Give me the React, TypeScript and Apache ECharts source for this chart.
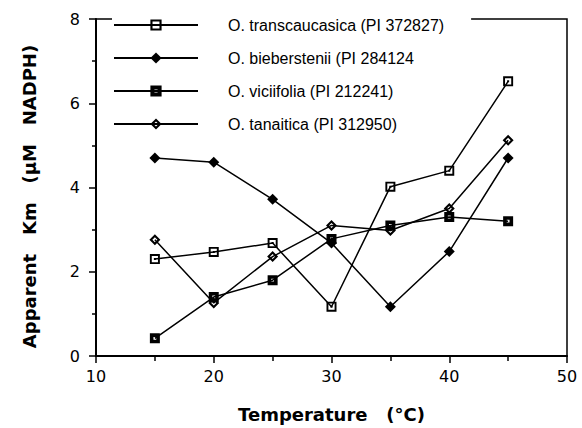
import React, { useEffect, useRef } from "react";
import * as echarts from "echarts";

const temperatures = [15, 20, 25, 30, 35, 40, 45];
const transcaucasica = [2.3, 2.47, 2.68, 1.17, 4.02, 4.4, 6.52];
const bieberstenii = [4.7, 4.6, 3.72, 2.68, 1.17, 2.48, 4.7];
const viciifolia = [0.42, 1.4, 1.8, 2.78, 3.1, 3.3, 3.2];
const tanaitica = [2.76, 1.26, 2.36, 3.1, 2.98, 3.5, 5.12];
const seriesNames = [
  "O. transcaucasica (PI 372827)",
  "O. bieberstenii (PI 284124",
  "O. viciifolia (PI 212241)",
  "O. tanaitica (PI 312950)",
];
const xTicks = [10, 20, 30, 40, 50];
const yTicks = [0, 2, 4, 6, 8];

const openSquare = "path://M0,0 H10 V10 H0 Z M1.9,1.9 V8.1 H8.1 V1.9 Z M4,4 H6 V6 H4 Z";
const filledSquare = "path://M0,0 H10 V10 H0 Z M3.6,3.6 V6.4 H6.4 V3.6 Z";
const filledDiamond = "path://M5,0 L10,5 L5,10 L0,5 Z";
const openDiamond = "path://M5,0 L10,5 L5,10 L0,5 Z M5,2.7 L2.7,5 L5,7.3 L7.3,5 Z";

export default function App() {
  const ref = useRef<HTMLDivElement>(null);
  useEffect(() => {
    if (!ref.current) return;
    const chart = echarts.init(ref.current, null, { renderer: "svg" });
    const mk = (name: string, data: number[], symbol: string, size: number) => ({
      name,
      type: "line",
      z: 3,
      data: temperatures.map((t, i) => [t, data[i]]),
      symbol,
      symbolSize: size,
      lineStyle: { color: "#000", width: 1.5 },
      itemStyle: { color: "#000" },
      emphasis: { disabled: true },
    });
    chart.setOption({
      animation: false,
      backgroundColor: "#fff",
      grid: {
        left: 96,
        right: 15,
        top: 19,
        bottom: 72,
        show: true,
        borderColor: "#000",
        borderWidth: 1.5,
        backgroundColor: "transparent",
      },
      legend: {
        orient: "vertical",
        left: 112,
        top: 14,
        z: 1,
        padding: [2, 27, 2, 1],
        backgroundColor: "#fff",
        itemWidth: 84,
        itemHeight: 14,
        itemGap: 15,
        data: seriesNames,
        textStyle: {
          fontFamily: "'Liberation Sans', Arial, sans-serif",
          fontSize: 16,
          lineHeight: 18,
          color: "#000",
          padding: [0, 0, 0, 25],
        },
      },
      xAxis: {
        type: "value",
        min: xTicks[0],
        max: xTicks[xTicks.length - 1],
        interval: 10,
        name: "Temperature   (°C)",
        nameLocation: "middle",
        nameGap: 49,
        nameTextStyle: { fontFamily: "'DejaVu Sans'", fontWeight: "bold", fontSize: 18, color: "#000" },
        axisLine: { lineStyle: { color: "#000", width: 2 } },
        axisTick: { show: true, inside: false, length: 7, lineStyle: { color: "#000", width: 1.5 } },
        minorTick: { show: true, splitNumber: 2, length: 5, lineStyle: { color: "#000", width: 1.5 } },
        axisLabel: { margin: 12, fontFamily: "'DejaVu Sans'", fontSize: 16, color: "#000" },
        splitLine: { show: false },
      },
      yAxis: {
        type: "value",
        min: yTicks[0],
        max: yTicks[yTicks.length - 1],
        interval: 2,
        name: "Apparent   Km   (µM   NADPH)",
        nameLocation: "middle",
        nameGap: 58,
        nameRotate: 90,
        nameTextStyle: {
          fontFamily: "'DejaVu Sans'",
          fontWeight: "bold",
          fontSize: 18,
          color: "#000",
          padding: [0, 18, 0, 0],
        },
        axisLine: { show: true, lineStyle: { color: "#000", width: 2 } },
        axisTick: { show: true, inside: false, length: 7, lineStyle: { color: "#000", width: 1.5 } },
        minorTick: { show: true, splitNumber: 2, length: 4, lineStyle: { color: "#000", width: 1.5 } },
        axisLabel: { margin: 16, fontFamily: "'DejaVu Sans'", fontSize: 16, color: "#000" },
        splitLine: { show: false },
      },
      series: [
        mk(seriesNames[0], transcaucasica, openSquare, 10),
        mk(seriesNames[1], bieberstenii, filledDiamond, 11),
        mk(seriesNames[2], viciifolia, filledSquare, 10),
        mk(seriesNames[3], tanaitica, openDiamond, 11),
      ],
    });
    return () => chart.dispose();
  }, []);
  return (
    <div
      ref={ref}
      style={{ position: "fixed", left: 0, top: 0, width: 582, height: 428 }}
    />
  );
}
